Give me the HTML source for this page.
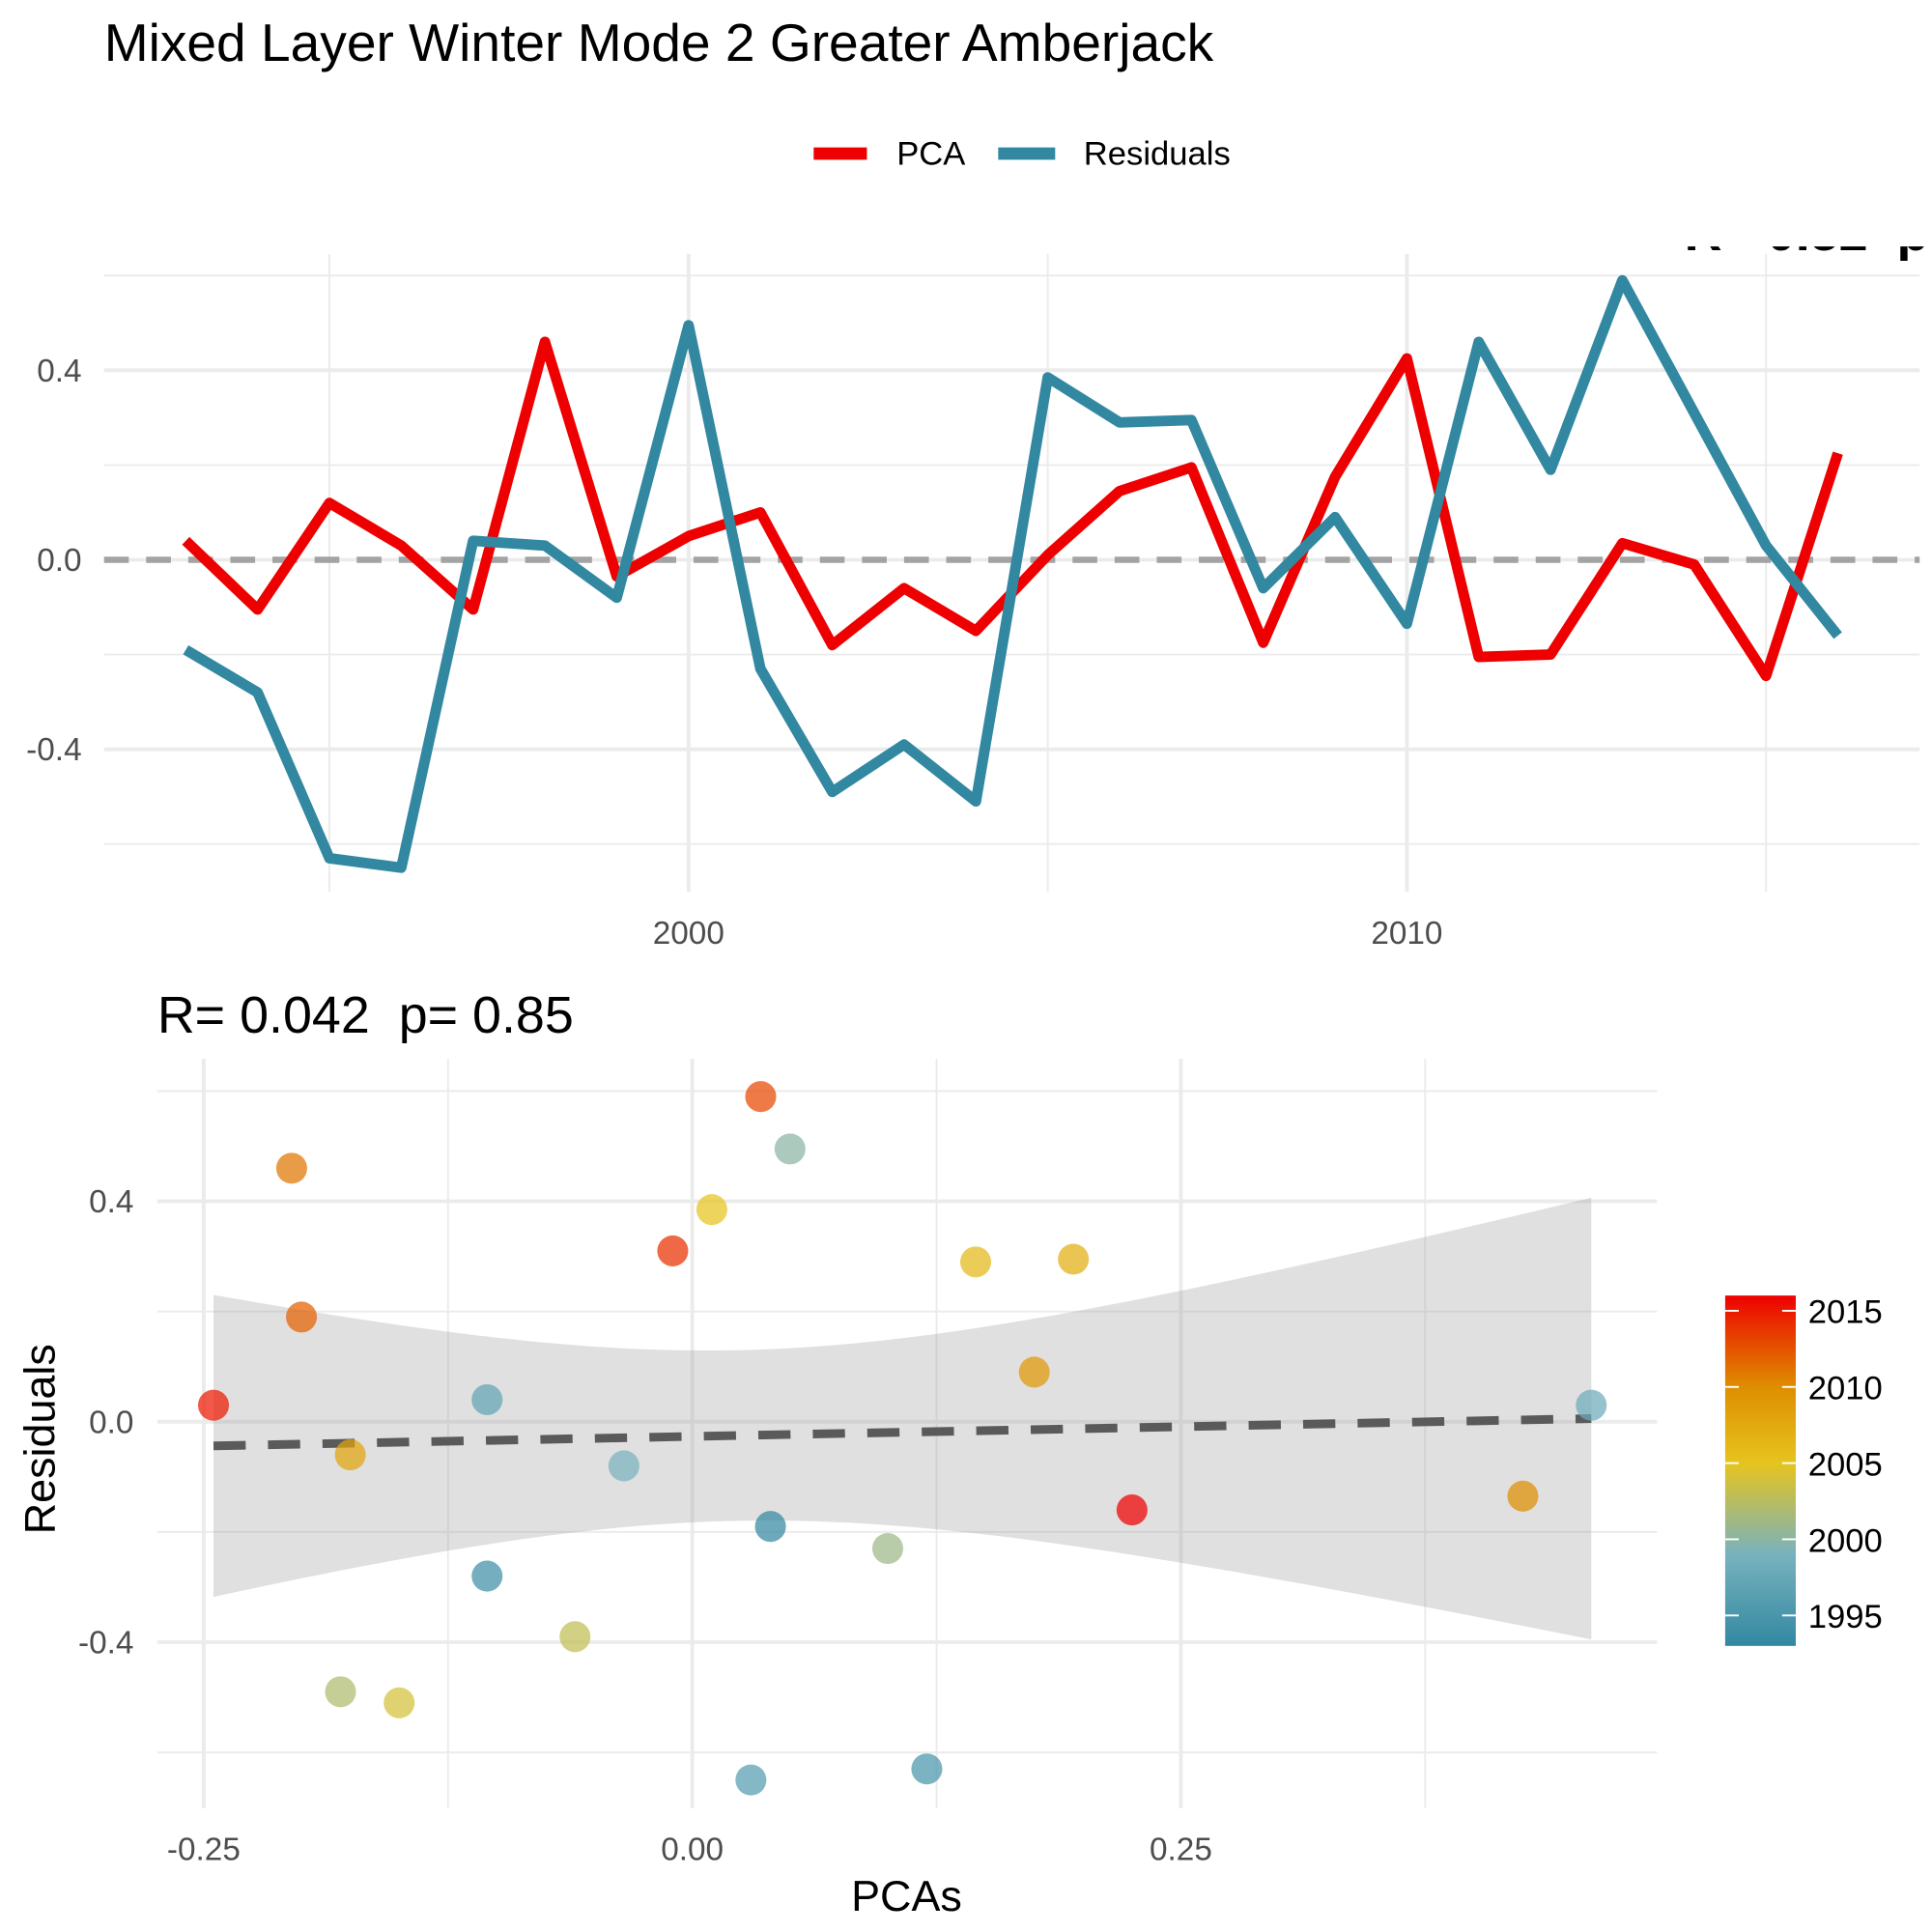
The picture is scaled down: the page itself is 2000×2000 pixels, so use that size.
<!DOCTYPE html>
<html><head><meta charset="utf-8"><style>
html,body{margin:0;padding:0;background:#fff;}
svg{display:block;font-family:"Liberation Sans",Arial,sans-serif;}
text{white-space:pre;}
</style></head><body>
<svg id="chart" width="2000" height="2000" viewBox="0 0 1560 1560" xmlns="http://www.w3.org/2000/svg">
<rect width="1560" height="1560" fill="#fff"/>
<text x="84" y="49" font-size="43" fill="#000">Mixed Layer Winter Mode 2 Greater Amberjack</text>
<g>
<line x1="657" y1="124" x2="700" y2="124" stroke="#EE0000" stroke-width="10"/>
<text x="724" y="133" font-size="27">PCA</text>
<line x1="806" y1="124" x2="852" y2="124" stroke="#3288A1" stroke-width="10"/>
<text x="875" y="133" font-size="27">Residuals</text>
</g>
<defs><clipPath id="cp"><rect x="0" y="199" width="1560" height="40"/></clipPath></defs>
<text x="1360" y="202" font-size="42" font-weight="bold" clip-path="url(#cp)">R= 0.52  p= 0.0093</text>
<g id="topG"></g>
<text x="127" y="834" font-size="42">R= 0.042  p= 0.85</text>
<g id="botG"></g>
<text x="732" y="1543" font-size="35" text-anchor="middle">PCAs</text>
<text transform="translate(44,1162) rotate(-90)" font-size="35" text-anchor="middle">Residuals</text>
<g id="cbarG"></g>
</svg>
<script>
const years=[1993,1994,1995,1996,1997,1998,1999,2000,2001,2002,2003,2004,2005,2006,2007,2008,2009,2010,2011,2012,2013,2014,2015,2016];
const pca=[0.04,-0.105,0.12,0.03,-0.105,0.46,-0.035,0.05,0.10,-0.18,-0.06,-0.15,0.01,0.145,0.195,-0.175,0.175,0.425,-0.205,-0.20,0.035,-0.01,-0.245,0.225];
const resid=[-0.19,-0.28,-0.63,-0.65,0.04,0.03,-0.08,0.495,-0.23,-0.49,-0.39,-0.51,0.385,0.29,0.295,-0.06,0.09,-0.135,0.46,0.19,0.59,0.31,0.03,-0.16];
const topYTicks=[-0.4,0.0,0.4];
const topXTicks=[2000,2010];
const botXTicks=[-0.25,0.00,0.25];
const botYTicks=[-0.4,0.0,0.4];
const cbarTicks=[1995,2000,2005,2010,2015];

const NS="http://www.w3.org/2000/svg";
function mk(p,t,a){const e=document.createElementNS(NS,t);for(const k in a)e.setAttribute(k,a[k]);p.appendChild(e);return e;}
const topG=document.getElementById('topG'),botG=document.getElementById('botG'),cbG=document.getElementById('cbarG');
const tx=y=>556+(y-2000)*58, ty=v=>452-v*382.5;
for(let k=-3;k<=3;k++){const v=k*0.2;const l=mk(topG,'line',{x1:84,x2:1550,y1:ty(v),y2:ty(v),stroke:'#ebebeb','stroke-width':k%2===0?3:1.5});

}
for(let y=1995;y<=2015;y+=5){const l=mk(topG,'line',{x1:tx(y),x2:tx(y),y1:205,y2:720,stroke:'#ebebeb','stroke-width':y%10===0?3:1.5});

}
topYTicks.forEach(v=>{const t=mk(topG,'text',{x:66,y:ty(v)+9,'font-size':26,fill:'#4d4d4d','text-anchor':'end'});t.textContent=v.toFixed(1);

});
topXTicks.forEach(v=>{const t=mk(topG,'text',{x:tx(v),y:762,'font-size':26,fill:'#4d4d4d','text-anchor':'middle'});t.textContent=v;

});
const zl=mk(topG,'line',{x1:84,x2:1550,y1:ty(0),y2:ty(0),stroke:'#a3a3a3','stroke-width':5,'stroke-dasharray':'20 14'});


const pl=mk(topG,'polyline',{points:years.map((y,i)=>tx(y)+','+ty(pca[i])).join(' '),fill:'none',stroke:'#EE0000','stroke-width':8.5,'stroke-linejoin':'round'});


const rl=mk(topG,'polyline',{points:years.map((y,i)=>tx(y)+','+ty(resid[i])).join(' '),fill:'none',stroke:'#3288A1','stroke-width':8.5,'stroke-linejoin':'round'});


const bx=v=>559+v*1578, by=v=>1148-v*445;
for(let k=-3;k<=3;k++){const v=k*0.2;const l=mk(botG,'line',{x1:127,x2:1338,y1:by(v),y2:by(v),stroke:'#ebebeb','stroke-width':k%2===0?3:1.5});

}
for(let k=-2;k<=3;k++){const v=k*0.125;const l=mk(botG,'line',{x1:bx(v),x2:bx(v),y1:855,y2:1460,stroke:'#ebebeb','stroke-width':k%2===0?3:1.5});

}
botYTicks.forEach(v=>{const t=mk(botG,'text',{x:108,y:by(v)+9,'font-size':26,fill:'#4d4d4d','text-anchor':'end'});t.textContent=v.toFixed(1);

});
botXTicks.forEach(v=>{const t=mk(botG,'text',{x:bx(v),y:1502,'font-size':26,fill:'#4d4d4d','text-anchor':'middle'});t.textContent=v.toFixed(2);

});
const n=pca.length,mx=pca.reduce((a,b)=>a+b)/n,my=resid.reduce((a,b)=>a+b)/n;
let sxx=0,sxy=0;for(let i=0;i<n;i++){sxx+=(pca[i]-mx)**2;sxy+=(pca[i]-mx)*(resid[i]-my);}
const b1=sxy/sxx,b0=my-b1*mx;let sse=0;for(let i=0;i<n;i++)sse+=(resid[i]-b0-b1*pca[i])**2;
const s=Math.sqrt(sse/(n-2)),tq=2.074;
const xmin=Math.min(...pca),xmax=Math.max(...pca);const up=[],dn=[];
for(let k=0;k<=80;k++){const x=xmin+(xmax-xmin)*k/80,f=b0+b1*x,se=s*Math.sqrt(1/n+(x-mx)**2/sxx)*tq;up.push(bx(x)+','+by(f+se));dn.unshift(bx(x)+','+by(f-se));}
const rb=mk(botG,'polygon',{points:up.concat(dn).join(' '),fill:'#999','fill-opacity':0.3});


const fl=mk(botG,'line',{x1:bx(xmin),y1:by(b0+b1*xmin),x2:bx(xmax),y2:by(b0+b1*xmax),stroke:'#5a5a5a','stroke-width':7,'stroke-dasharray':'26 18'});


const stops=[[1993,[50,136,161]],[1999,[120,178,190]],[2005,[230,196,30]],[2010,[222,142,0]],[2016,[238,0,0]]];
function col(y){for(let i=0;i<stops.length-1;i++){const a=stops[i][0],ca=stops[i][1],b=stops[i+1][0],cb2=stops[i+1][1];if(y<=b){const t=Math.max(0,(y-a)/(b-a));return 'rgb('+ca.map((c,j)=>Math.round(c+(cb2[j]-c)*t)).join(',')+')';}}return 'rgb(238,0,0)';}
years.forEach((y,i)=>{const c=mk(botG,'circle',{cx:bx(pca[i]),cy:by(resid[i]),r:12.5,fill:col(y),'fill-opacity':0.72});

});
const cy=y=>1329-(y-1993)*12.3;
const gd=mk(document.getElementById('chart'),'defs',{});const lg=mk(gd,'linearGradient',{id:'cg',x1:0,y1:1,x2:0,y2:0});
stops.forEach(st=>mk(lg,'stop',{offset:(st[0]-1993)/23,'stop-color':'rgb('+st[1].join(',')+')'}));
const cr=mk(cbG,'rect',{x:1393,y:cy(2016),width:57,height:cy(1993)-cy(2016),fill:'url(#cg)'});


cbarTicks.forEach(v=>{mk(cbG,'line',{x1:1393,x2:1404,y1:cy(v),y2:cy(v),stroke:'#fff','stroke-width':1.5});mk(cbG,'line',{x1:1439,x2:1450,y1:cy(v),y2:cy(v),stroke:'#fff','stroke-width':1.5});
const t=mk(cbG,'text',{x:1460,y:cy(v)+10,'font-size':27});t.textContent=v;

});
</script>
</body></html>
